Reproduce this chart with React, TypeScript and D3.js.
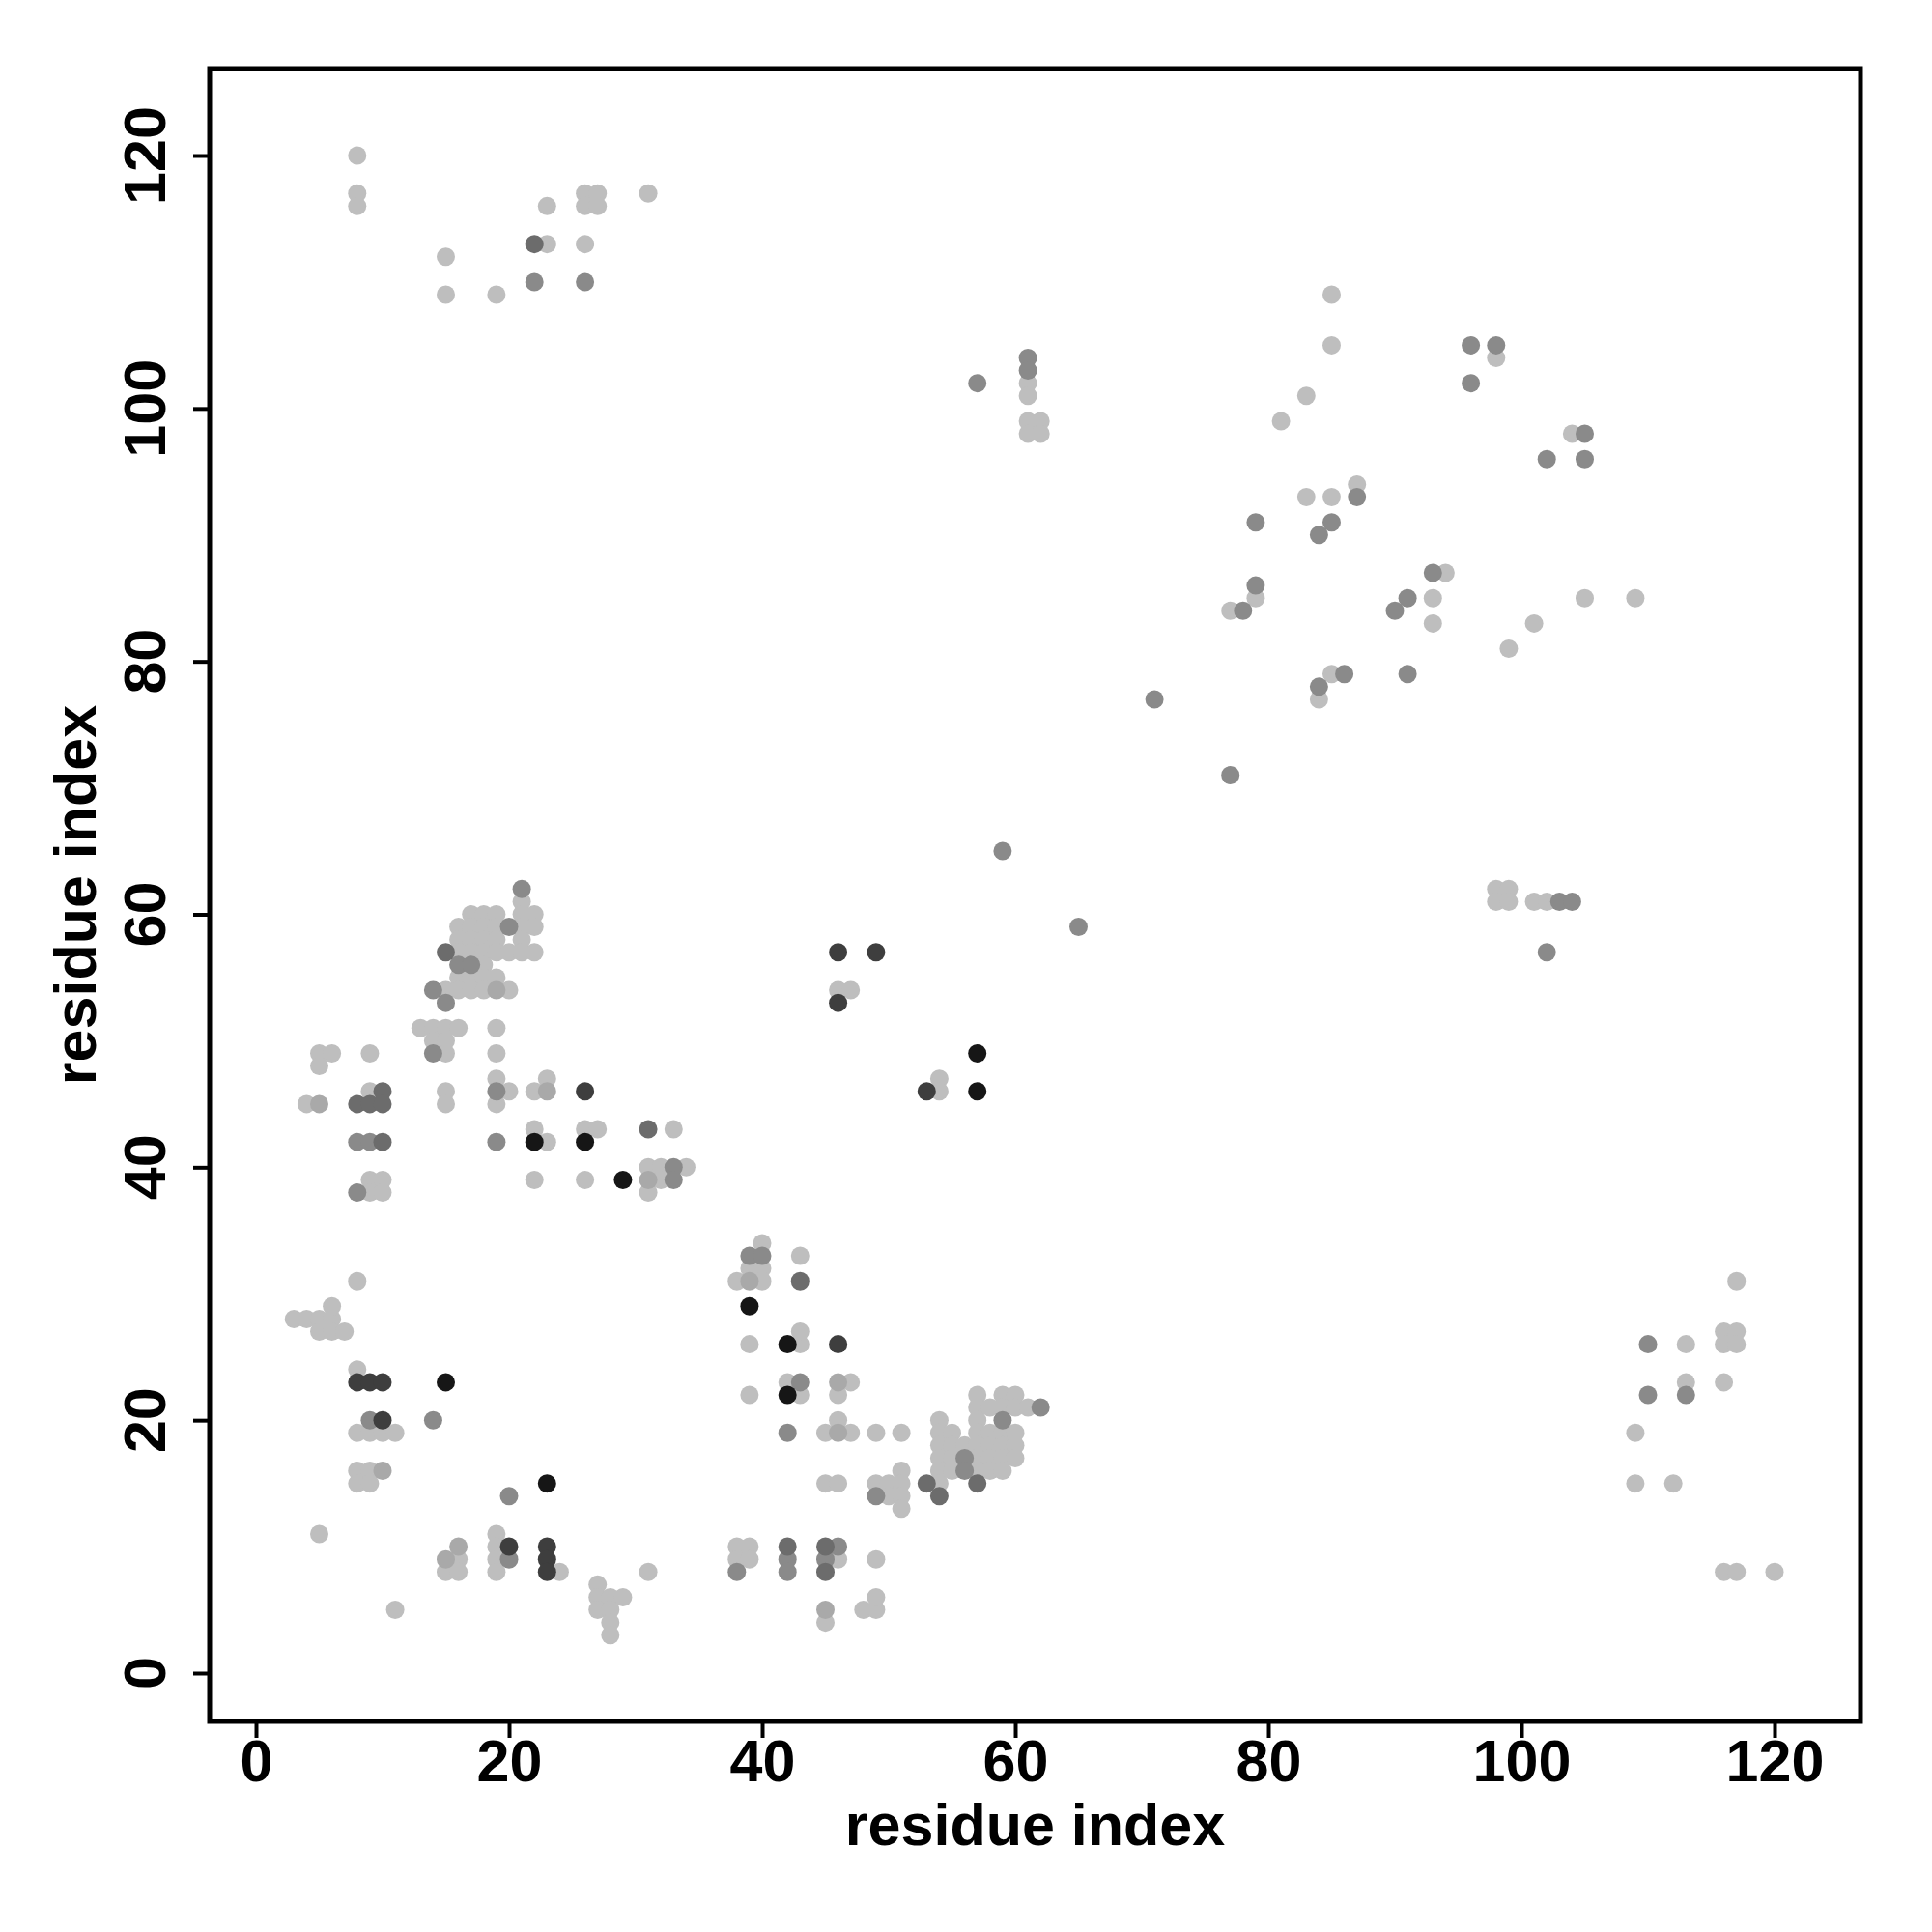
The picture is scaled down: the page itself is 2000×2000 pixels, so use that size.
import React, { useEffect, useRef } from "react";
import * as d3 from "d3";

// contact map: [i, j] residue pairs, grouped by grey shade
const lightContacts: [number, number][] = [
  [8, 120], [8, 117], [8, 116], [15, 112], [15, 109], [19, 109], [23, 113], [23, 116], [26, 113],
  [26, 117], [27, 117], [26, 116], [27, 116], [31, 117],
  [61, 102], [61, 101], [61, 99], [62, 99], [61, 98], [62, 98],
  [85, 109], [85, 105], [83, 101], [81, 99], [87, 94], [83, 93], [85, 93], [79, 85], [77, 84],
  [94, 87], [93, 85], [93, 83], [85, 79], [84, 77], [98, 104], [104, 98], [105, 85], [109, 85],
  [101, 83], [99, 81], [98, 62], [99, 62], [98, 61], [99, 61], [101, 61], [102, 61],
  [117, 31], [116, 27], [117, 27], [116, 26], [117, 26], [113, 26], [113, 23], [116, 23],
  [109, 19], [109, 15], [112, 15], [116, 8], [117, 8], [120, 8],
  [46, 54], [47, 54], [54, 47], [54, 46],
  [21, 61], [17, 60], [18, 60], [19, 60], [21, 60], [22, 60], [16, 59], [17, 59], [18, 59], [19, 59],
  [21, 59], [22, 59], [16, 58], [17, 58], [18, 58], [19, 58], [21, 58], [16, 57], [17, 57], [18, 57],
  [19, 57], [20, 57], [21, 57], [22, 57], [18, 56], [16, 55], [17, 55], [18, 55], [19, 55], [15, 54],
  [16, 54], [17, 54], [18, 54], [20, 54], [13, 51], [14, 51], [15, 51], [16, 51], [19, 51], [14, 50],
  [15, 50], [15, 49], [19, 49], [5, 49], [6, 49], [5, 48], [9, 49], [19, 47], [9, 46], [15, 46],
  [20, 46], [22, 46], [23, 47], [4, 45], [15, 45], [19, 45], [22, 43], [23, 42], [26, 43], [27, 43],
  [33, 43], [22, 39], [26, 39], [9, 39], [10, 39], [9, 38], [10, 38], [31, 40], [32, 40], [34, 40],
  [32, 39], [31, 38],
  [8, 31], [3, 28], [4, 28], [5, 28], [6, 28], [6, 29], [5, 27], [6, 27], [7, 27], [8, 24], [8, 19],
  [9, 19], [10, 19], [11, 19], [8, 16], [9, 16], [8, 15], [9, 15], [5, 11], [16, 9], [15, 8], [16, 8],
  [19, 11], [19, 10], [19, 9], [19, 8], [11, 5], [24, 8], [27, 7], [27, 6], [27, 5], [28, 6], [29, 6],
  [28, 5], [28, 4], [28, 3], [31, 8], [38, 10], [39, 10], [38, 9], [39, 9], [40, 34], [39, 32],
  [40, 32], [38, 31], [40, 31], [43, 33], [39, 26], [43, 26], [43, 27], [39, 22], [42, 23], [43, 22],
  [47, 23], [46, 22], [45, 19], [46, 20], [47, 19], [49, 19], [51, 19], [45, 15], [46, 15], [49, 15],
  [50, 15], [51, 16], [51, 15], [50, 14], [51, 14], [51, 13], [49, 9], [46, 9], [45, 4], [48, 5],
  [49, 5], [49, 6],
  [54, 20], [54, 19], [55, 19], [54, 18], [55, 18], [56, 18], [54, 17], [55, 17], [54, 16], [55, 16],
  [54, 15], [57, 22], [57, 21], [57, 20], [57, 19], [57, 18], [57, 17], [57, 16], [58, 21], [59, 22],
  [60, 22], [59, 21], [60, 21], [61, 21], [58, 19], [59, 19], [60, 19], [58, 18], [59, 18], [60, 18],
  [58, 17], [59, 17], [60, 17], [58, 16], [59, 16],
];

const midLightContacts: [number, number][] = [
  [19, 54], [5, 45], [39, 31], [46, 23], [15, 9], [16, 10], [10, 16], [46, 19], [31, 39], [45, 5],
  [23, 46],
];

const mediumContacts: [number, number][] = [
  [22, 110], [26, 110], [57, 102], [61, 104], [61, 103], [59, 65], [65, 59], [71, 77], [77, 71],
  [87, 93], [79, 91], [85, 91], [84, 90], [79, 86], [78, 84], [93, 87], [91, 85], [90, 84], [86, 79],
  [84, 78], [91, 79], [96, 105], [98, 105], [96, 102], [105, 98], [102, 96], [105, 96], [103, 61],
  [104, 61], [102, 57], [110, 26], [110, 22], [113, 22],
  [21, 62], [20, 59], [16, 56], [17, 56], [14, 54], [15, 53], [14, 49], [19, 46], [8, 42], [9, 42],
  [19, 42], [8, 38], [33, 40], [33, 39], [39, 33], [40, 33], [14, 20], [9, 20], [20, 9], [38, 8],
  [42, 19], [43, 23], [49, 14], [56, 17], [56, 16], [59, 20], [62, 21], [42, 9], [42, 8], [45, 9],
  [20, 14], [46, 10],
];

const darkMediumContacts: [number, number][] = [
  [22, 113], [15, 57], [10, 46], [8, 45], [9, 45], [10, 45], [10, 42], [31, 43], [43, 31], [42, 10],
  [45, 8], [45, 10], [53, 15], [54, 14], [57, 15],
];

const darkContacts: [number, number][] = [
  [26, 46], [46, 53], [53, 46], [46, 26], [8, 23], [9, 23], [10, 23], [10, 20], [23, 10], [23, 9],
  [23, 8], [20, 10], [46, 57], [49, 57],
];

const blackContacts: [number, number][] = [
  [22, 42], [26, 42], [29, 39], [39, 29], [42, 26], [42, 22], [15, 23], [23, 15], [57, 49], [57, 46],
];

const tickValues = [0, 20, 40, 60, 80, 100, 120];

const groups = [
  { data: lightContacts, color: "#bebebe" },
  { data: midLightContacts, color: "#a9a9a9" },
  { data: mediumContacts, color: "#8a8a8a" },
  { data: darkMediumContacts, color: "#6c6c6c" },
  { data: darkContacts, color: "#3e3e3e" },
  { data: blackContacts, color: "#161616" },
];

export default function App() {
  const svgRef = useRef<SVGSVGElement>(null);

  useEffect(() => {
    const width = 2000;
    const height = 2000;
    const box = { left: 217, right: 1926, top: 71, bottom: 1782 };
    const font = "'Liberation Sans', Arial, Helvetica, sans-serif";
    const fontSize = 61;

    const svg = d3.select(svgRef.current);
    svg.selectAll("*").remove();
    svg.attr("width", width).attr("height", height);

    svg.append("rect").attr("width", width).attr("height", height).attr("fill", "white");

    const x = d3.scaleLinear().domain([0, 120]).range([265, 1837]);
    const y = d3.scaleLinear().domain([0, 120]).range([1732, 161]);

    // points
    groups.forEach(g => {
      svg.append("g")
        .selectAll("circle")
        .data(g.data)
        .enter()
        .append("circle")
        .attr("cx", d => x(d[0]))
        .attr("cy", d => y(d[1]))
        .attr("r", 9.5)
        .attr("fill", g.color);
    });

    // frame
    svg.append("rect")
      .attr("x", box.left)
      .attr("y", box.top)
      .attr("width", box.right - box.left)
      .attr("height", box.bottom - box.top)
      .attr("fill", "none")
      .attr("stroke", "black")
      .attr("stroke-width", 5);

    // x axis
    const xAxis = svg.append("g")
      .attr("transform", `translate(0, ${box.bottom})`)
      .call(d3.axisBottom(x).tickValues(tickValues).tickSize(17).tickSizeOuter(0).tickPadding(2));
    xAxis.select(".domain").remove();
    xAxis.selectAll("line").attr("stroke-width", 4);
    xAxis.selectAll("text")
      .attr("font-family", font)
      .attr("font-weight", "bold")
      .attr("font-size", fontSize)
      .attr("fill", "black");

    // y axis
    const yAxis = svg.append("g")
      .attr("transform", `translate(${box.left}, 0)`)
      .call(d3.axisLeft(y).tickValues(tickValues).tickSize(17).tickSizeOuter(0));
    yAxis.select(".domain").remove();
    yAxis.selectAll("line").attr("stroke-width", 4);
    yAxis.selectAll("text").remove();
    tickValues.forEach(v => {
      svg.append("text")
        .attr("transform", `translate(171, ${y(v)}) rotate(-90)`)
        .attr("text-anchor", "middle")
        .attr("font-family", font)
        .attr("font-weight", "bold")
        .attr("font-size", fontSize)
        .text(v);
    });

    // titles
    svg.append("text")
      .attr("x", (box.left + box.right) / 2)
      .attr("y", 1910)
      .attr("text-anchor", "middle")
      .attr("font-family", font)
      .attr("font-weight", "bold")
      .attr("font-size", fontSize)
      .text("residue index");

    svg.append("text")
      .attr("transform", `translate(99, ${(box.top + box.bottom) / 2}) rotate(-90)`)
      .attr("text-anchor", "middle")
      .attr("font-family", font)
      .attr("font-weight", "bold")
      .attr("font-size", fontSize)
      .text("residue index");
  }, []);

  return <svg ref={svgRef} style={{ position: "absolute", left: 0, top: 0 }}></svg>;
}
